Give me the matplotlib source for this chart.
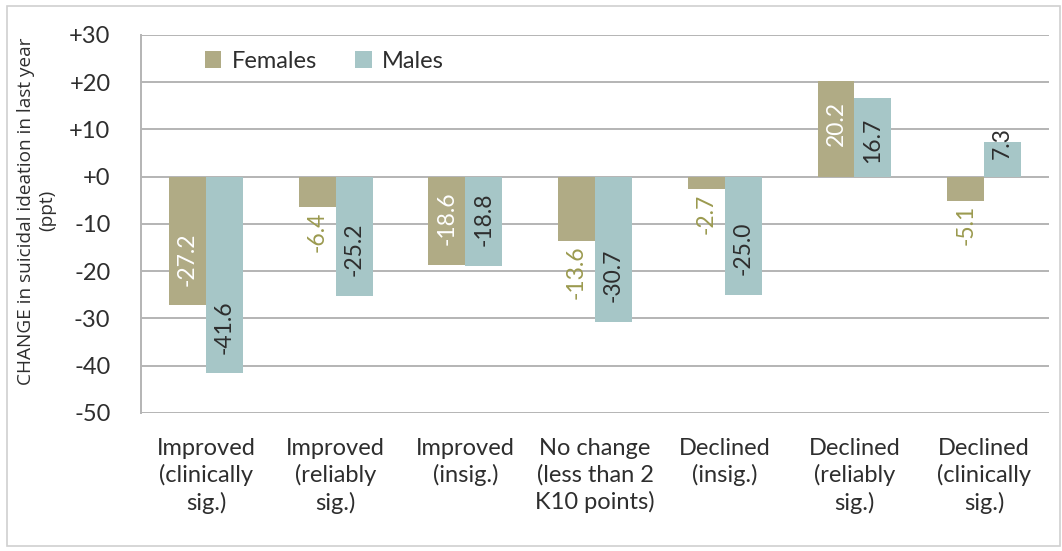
import numpy as np
import matplotlib
matplotlib.use("Agg")
import matplotlib.pyplot as plt
from matplotlib.patches import Rectangle

# --- data ---
categories = [
    "Improved\n(clinically\nsig.)",
    "Improved\n(reliably\nsig.)",
    "Improved\n(insig.)",
    "No change\n(less than 2\nK10 points)",
    "Declined\n(insig.)",
    "Declined\n(reliably\nsig.)",
    "Declined\n(clinically\nsig.)",
]
females = [-27.2, -6.4, -18.6, -13.6, -2.7, 20.2, -5.1]
males = [-41.6, -25.2, -18.8, -30.7, -25.0, 16.7, 7.3]
yticks = [30, 20, 10, 0, -10, -20, -30, -40, -50]

FEMALE_COL = "#B0AB85"
MALE_COL = "#A6C6C7"
FEMALE_OUT_TXT = "#9B9A4F"
DARK_TXT = "#2E2E2E"
GRID_COL = "#B4B4B4"

plt.rcParams["font.family"] = ["Lato", "DejaVu Sans"]

fig = plt.figure(figsize=(10.62, 5.51), dpi=100)
ax = fig.add_axes([0.1328, 0.2505, 0.855, 0.686])

x = np.arange(len(categories))
w = 0.285
ax.bar(x - w / 2, females, w, color=FEMALE_COL, label="Females", zorder=2)
ax.bar(x + w / 2, males, w, color=MALE_COL, label="Males", zorder=2)


def label_bars(xs, vals, inside_col, outside_col, min_inside, min_fit):
    for xi, v in zip(xs, vals):
        up = v >= 0
        sign = 1 if up else -1
        if abs(v) < min_inside:
            # label sits just past the end of the bar
            off, col = 3 * sign, outside_col
            va = "bottom" if up else "top"
        elif abs(v) < min_fit:
            # too short: label straddles the bar end
            off, col = -12 * sign, inside_col
            va = "bottom" if up else "top"
        else:
            off, col = -14 * sign, inside_col
            va = "top" if up else "bottom"
        ax.annotate(f"{v:.1f}", (xi, v), xytext=(0, off), textcoords="offset points",
                    rotation=90, ha="center", va=va, color=col, fontsize=16.5, zorder=3)


label_bars(x - w / 2, females, "white", FEMALE_OUT_TXT, 15, 15)
label_bars(x + w / 2, males, DARK_TXT, DARK_TXT, 0, 10)

ax.set_ylim(-50, 30)
ax.set_xlim(-0.5, len(categories) - 0.5)
ax.set_yticks(yticks)
ax.set_yticklabels([f"+{t}" if t >= 0 else f"{t}" for t in yticks],
                   fontsize=17, color=DARK_TXT)
ax.set_xticks(x)
ax.set_xticklabels(categories, fontsize=17, color=DARK_TXT, linespacing=1.3)
ax.tick_params(axis="y", length=0, pad=22)
ax.tick_params(axis="x", length=0, pad=18)

ax.grid(axis="y", color=GRID_COL, linewidth=1.4, zorder=0)
ax.set_axisbelow(True)
for s in ["top", "right", "bottom"]:
    ax.spines[s].set_visible(False)
ax.spines["left"].set_color(GRID_COL)
ax.spines["left"].set_linewidth(1.4)

ax.set_ylabel("CHANGE in suicidal ideation in last year\n(ppt)", family=["Open Sans", "DejaVu Sans"],
              fontsize=13.7, color=DARK_TXT, linespacing=1.25)
ax.yaxis.set_label_coords(-0.093, 0.535)

leg = ax.legend(loc="center left", bbox_to_anchor=(0.06, 0.93), ncol=2, frameon=False,
                fontsize=17, handlelength=0.7, handleheight=0.7, handletextpad=0.45,
                columnspacing=1.6, borderaxespad=0)
for t in leg.get_texts():
    t.set_color(DARK_TXT)

# light frame around the whole chart
fig.patches.append(Rectangle((7 / 1062, 5 / 551), 1053 / 1062, 540 / 551, transform=fig.transFigure,
                             fill=False, edgecolor="#D0D0D0", linewidth=1.2))

fig.savefig("out.png", dpi=100)
